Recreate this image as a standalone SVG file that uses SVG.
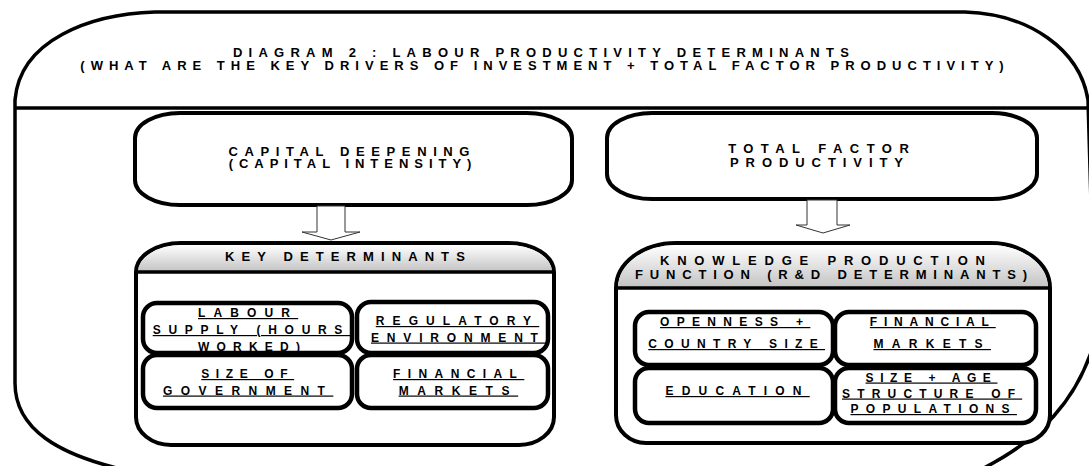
<svg xmlns="http://www.w3.org/2000/svg" width="1089" height="466" viewBox="0 0 1089 466">
<style>
text{font-family:"Liberation Sans",Arial,sans-serif;font-weight:bold;fill:#000;text-anchor:middle}
.t{font-size:13px}
.i{font-size:12px;text-decoration:underline}
.box{fill:#fff;stroke:#000;stroke-width:4}
.ibox{fill:none;stroke:#000;stroke-width:4.5}
.frame{fill:#fff;stroke:#000;stroke-width:3.5}
.hdr{fill:url(#g)}
.arrow{fill:#fff;stroke:#333;stroke-width:1}
</style>
<defs>
<linearGradient id="g" x1="0" y1="0" x2="0" y2="1">
<stop offset="0" stop-color="#ffffff"/>
<stop offset="1" stop-color="#c4c4c4"/>
</linearGradient>
</defs>
<rect width="1089" height="466" fill="#fff"/>
<g id="frame">
<path class="frame" d="M155,12 L965,12 C1030,14 1080,50 1088,100 L1095,340 C1078,400 1040,440 980,470 L125,470 C60,455 15,430 15,383 L15,100 C20,40 90,14 155,12 Z"/>
<line x1="15" y1="108" x2="1089" y2="108" stroke="#000" stroke-width="3.5"/>
<text class="t" x="544" y="57" letter-spacing="6.25">DIAGRAM 2 : LABOUR PRODUCTIVITY DETERMINANTS</text>
<text class="t" x="545" y="69.5" letter-spacing="6">(WHAT ARE THE KEY DRIVERS OF INVESTMENT + TOTAL FACTOR PRODUCTIVITY)</text>
</g>
<g id="capital-deepening">
<rect class="box" x="135" y="113" width="437" height="92" rx="45" ry="25"/>
<text class="t" x="352.3" y="155.5" letter-spacing="6.6">CAPITAL DEEPENING</text>
<text class="t" x="353" y="168" letter-spacing="5.97">(CAPITAL INTENSITY)</text>
</g>
<g id="tfp">
<rect class="box" x="607" y="113" width="430" height="86" rx="45" ry="25"/>
<text class="t" x="822.2" y="153" letter-spacing="7.45">TOTAL FACTOR</text>
<text class="t" x="820" y="166.5" letter-spacing="6.93">PRODUCTIVITY</text>
</g>
<g id="connectors">
<polygon class="arrow" points="317,206 345,206 345,232 360,232 331,240 302,232 317,232"/>
<polygon class="arrow" points="807,200 837,200 837,225 850,225 823,233 796,225 807,225"/>
</g>
<g id="key-determinants">
<path class="box" d="M181,243 L508,243 A46 29 0 0 1 554,272 L554,417 A35 28 0 0 1 519,445 L171,445 A35 28 0 0 1 136,417 L136,272 A45 29 0 0 1 181,243 Z"/>
<path class="hdr" d="M138,271 A45 27 0 0 1 181,245 L508,245 A44 27 0 0 1 552,271 Z"/>
<line x1="136" y1="272" x2="554" y2="272" stroke="#000" stroke-width="3.5"/>
<text class="t" x="348.5" y="260.5" letter-spacing="7.09">KEY DETERMINANTS</text>
</g>
<g id="labour-supply">
<text class="i" x="248.1" y="317" letter-spacing="8.14">LABOUR</text>
<text class="i" x="251.4" y="334" letter-spacing="7.69">SUPPLY (HOURS</text>
<text class="i" x="252.6" y="351" letter-spacing="7.2">WORKED)</text>
<rect class="ibox" x="143" y="303" width="209" height="50" rx="14" ry="14"/>
</g>
<g id="regulatory">
<rect class="ibox" x="357" y="302" width="191" height="51" rx="14" ry="14"/>
<text class="i" x="457.5" y="325" letter-spacing="8.1">REGULATORY</text>
<text class="i" x="458.4" y="341.5" letter-spacing="7.83">ENVIRONMENT</text>
</g>
<g id="size-of-government">
<rect class="ibox" x="143" y="355" width="209" height="53" rx="14" ry="14"/>
<text class="i" x="247.7" y="378" letter-spacing="6.6">SIZE OF</text>
<text class="i" x="248.2" y="394.5" letter-spacing="8.44">GOVERNMENT</text>
</g>
<g id="financial-markets-left">
<rect class="ibox" x="357" y="355" width="191" height="53" rx="14" ry="14"/>
<text class="i" x="458.7" y="378" letter-spacing="7.4">FINANCIAL</text>
<text class="i" x="458.4" y="394.5" letter-spacing="8.6">MARKETS</text>
</g>
<g id="knowledge-production">
<path class="box" d="M616,288 A60 45 0 0 1 676,243 L990,243 A60 45 0 0 1 1050,288 L1050,415 A30 28 0 0 1 1020,443 L646,443 A30 28 0 0 1 616,415 Z"/>
<path class="hdr" d="M618,287 A58 43 0 0 1 676,245 L990,245 A58 43 0 0 1 1048,287 Z"/>
<line x1="616" y1="288" x2="1050" y2="288" stroke="#000" stroke-width="3.5"/>
<text class="t" x="826.4" y="264.5" letter-spacing="7.79">KNOWLEDGE PRODUCTION</text>
<text class="t" x="834.4" y="278.5" letter-spacing="6.83">FUNCTION (R&amp;D DETERMINANTS)</text>
</g>
<g id="openness">
<rect class="ibox" x="635" y="312" width="198" height="53" rx="14" ry="14"/>
<text class="i" x="735.2" y="326" letter-spacing="7.33">OPENNESS +</text>
<text class="i" x="736.7" y="348" letter-spacing="7.34">COUNTRY SIZE</text>
</g>
<g id="financial-markets-right">
<rect class="ibox" x="835" y="312" width="201" height="53" rx="14" ry="14"/>
<text class="i" x="932.8" y="326" letter-spacing="6.8">FINANCIAL</text>
<text class="i" x="932.2" y="348" letter-spacing="8.3">MARKETS</text>
</g>
<g id="education">
<rect class="ibox" x="635" y="368" width="198" height="55" rx="14" ry="14"/>
<text class="i" x="737.6" y="395" letter-spacing="8.2">EDUCATION</text>
</g>
<g id="size-age-structure">
<rect class="ibox" x="835" y="368" width="201" height="55" rx="14" ry="14"/>
<text class="i" x="931.5" y="381.5" letter-spacing="6.6">SIZE + AGE</text>
<text class="i" x="932.1" y="397.5" letter-spacing="7.18">STRUCTURE OF</text>
<text class="i" x="933.7" y="413" letter-spacing="7.33">POPULATIONS</text>
</g>
</svg>
